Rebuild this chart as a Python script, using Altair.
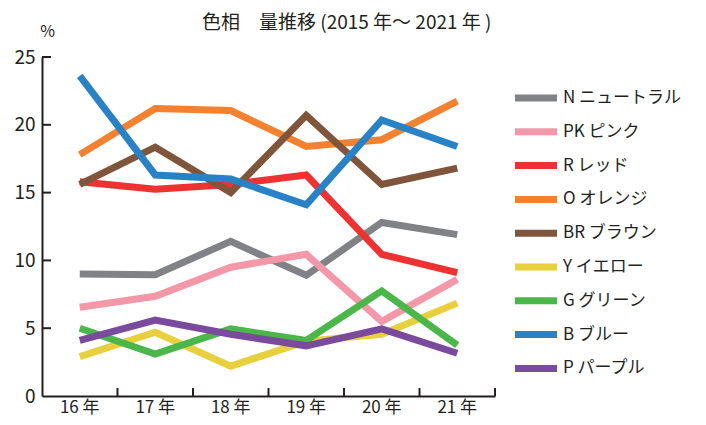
import altair as alt
import pandas as pd

years = ["16 年", "17 年", "18 年", "19 年", "20 年", "21 年"]
series = ["N ニュートラル", "PK ピンク", "R レッド", "O オレンジ", "BR ブラウン",
          "Y イエロー", "G グリーン", "B ブルー", "P パープル"]
colors = ["#808285", "#f497a9", "#ee3131", "#f38130", "#7f563b",
          "#e8cf3e", "#4bb649", "#2a82c6", "#7a4b9c"]

N_vals = [9.0, 8.95, 11.4, 8.9, 12.8, 11.9]
PK_vals = [6.55, 7.35, 9.5, 10.45, 5.5, 8.6]
R_vals = [15.8, 15.25, 15.6, 16.3, 10.45, 9.1]
O_vals = [17.8, 21.2, 21.05, 18.4, 18.9, 21.75]
BR_vals = [15.6, 18.35, 15.0, 20.7, 15.6, 16.8]
Y_vals = [2.9, 4.7, 2.2, 4.05, 4.55, 6.85]
G_vals = [5.0, 3.1, 4.95, 4.1, 7.75, 3.75]
B_vals = [23.6, 16.3, 16.0, 14.1, 20.35, 18.4]
P_vals = [4.1, 5.6, 4.55, 3.7, 4.95, 3.15]

y_ticks = [0, 5, 10, 15, 20, 25]

all_vals = [N_vals, PK_vals, R_vals, O_vals, BR_vals, Y_vals, G_vals, B_vals, P_vals]
rows = []
for si, (name, vals) in enumerate(zip(series, all_vals)):
    for yi, (yr, v) in enumerate(zip(years, vals)):
        rows.append({"series": name, "year": yr, "value": v, "order": si})
df = pd.DataFrame(rows)

FONT = "Noto Sans CJK JP"
AXIS_COLOR = "#231f20"
W, H = 453, 339

xscale = alt.Scale(type="band", domain=years, paddingInner=0, paddingOuter=0)
yscale = alt.Scale(domain=[0, 25], nice=False)

lines = alt.Chart(df).mark_line(strokeWidth=7, strokeJoin="miter", strokeCap="butt").encode(
    x=alt.X("year:N", scale=xscale, bandPosition=0.5,
            axis=alt.Axis(title=None, ticks=False, domain=True, domainColor=AXIS_COLOR,
                          domainWidth=2, labelFont=FONT, labelFontSize=17,
                          labelColor=AXIS_COLOR, labelAngle=0, labelPadding=3)),
    y=alt.Y("value:Q", scale=yscale,
            axis=alt.Axis(title="%", titleAngle=0, titleX=5, titleY=-26,
                          titleAlign="center", titleBaseline="middle",
                          titleFont=FONT, titleFontSize=16, titleFontWeight="normal",
                          titleColor=AXIS_COLOR,
                          values=y_ticks, ticks=False, grid=False, domain=True,
                          domainColor=AXIS_COLOR, domainWidth=2,
                          labelFont=FONT, labelFontSize=19, labelColor=AXIS_COLOR,
                          labelPadding=7)),
    color=alt.Color("series:N",
                    scale=alt.Scale(domain=series, range=colors),
                    legend=alt.Legend(orient="none", legendX=480, legendY=27,
                                      title=None, symbolType="M-2,0L2,0",
                                      symbolStrokeWidth=7, symbolSize=441,
                                      labelFont=FONT, labelFontSize=17,
                                      labelColor=AXIS_COLOR, labelOffset=13,
                                      rowPadding=5.8, labelLimit=300)),
    detail="series:N",
    order="order:Q",
)

ytick_df = pd.DataFrame({"v": y_ticks[1:]})
yticks = alt.Chart(ytick_df).mark_rule(color=AXIS_COLOR, strokeWidth=2).encode(
    y=alt.Y("v:Q", scale=yscale),
    x=alt.value(0),
    x2=alt.value(9),
)

xtick_df = pd.DataFrame({"year": years})
xticks = alt.Chart(xtick_df).mark_rule(color=AXIS_COLOR, strokeWidth=2).encode(
    x=alt.X("year:N", scale=xscale, bandPosition=1),
    y=alt.value(H),
    y2=alt.value(H - 8),
)

chart = alt.layer(lines, yticks, xticks).properties(
    width=W, height=H,
    padding={"left": 34, "top": 49, "right": 203, "bottom": 21},
    autosize=alt.AutoSizeParams(type="none"),
    title=alt.TitleParams("色相　量推移 (2015 年～ 2021 年 )", anchor="start", dx=160,
                          frame="group", offset=-10, font=FONT, fontSize=19,
                          fontWeight="normal", color=AXIS_COLOR),
).configure_view(stroke=None)

chart.save("out.html", embed_options={"renderer": "svg", "actions": False})
